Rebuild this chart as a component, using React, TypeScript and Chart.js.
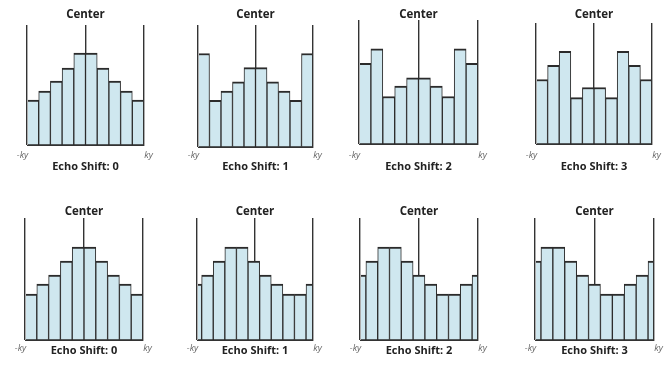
import React, { useEffect, useRef } from "react";
import { Chart, registerables } from "chart.js";

Chart.register(...registerables);

// ---- text ----
const centerLabel = "Center";
const edgeLabels = ["-ky", "", "ky"];
const tickValues = [0, 5, 10];
const shiftLabels = ["Echo Shift: 0", "Echo Shift: 1", "Echo Shift: 2", "Echo Shift: 3"];

// ---- data (bin heights) ----
// top row: each half circularly shifted outward
const topShift0 = [45, 54, 64, 77, 92, 92, 77, 64, 54, 45];
const topShift1 = [92, 46, 55, 64, 78, 78, 64, 55, 46, 92];
const topShift2 = [78, 92, 46, 56, 64, 64, 56, 46, 92, 78];
const topShift3 = [64, 78, 92, 46, 56, 56, 46, 92, 78, 64];
const topStart = [0, 0, 0, 0];

// bottom row: whole profile shifted (wrap-around, partial edge bins)
const bottomShift0 = [46, 56, 65, 79, 93, 93, 79, 65, 56, 46];
const bottomShift1 = [56, 65, 79, 93, 93, 79, 65, 56, 46, 46, 56];
const bottomShift2 = [65, 79, 93, 93, 79, 65, 56, 46, 46, 56, 65];
const bottomShift3 = [79, 93, 93, 79, 65, 56, 46, 46, 56, 65, 79];
const bottomStart = [0, -0.6, -0.5, -0.5];

const topRow = [topShift0, topShift1, topShift2, topShift3];
const bottomRow = [bottomShift0, bottomShift1, bottomShift2, bottomShift3];

// ---- layout (pixels) ----
const topGeo = [
  { L: 27, R: 144, T: 25, B: 145 },
  { L: 198, R: 313, T: 25, B: 147 },
  { L: 359, R: 478, T: 20, B: 144 },
  { L: 536, R: 652, T: 23, B: 144 },
];
const bottomGeo = [
  { L: 25, R: 143, T: 218, B: 340 },
  { L: 197, R: 313, T: 218, B: 340 },
  { L: 360, R: 478, T: 218, B: 340 },
  { L: 535, R: 654, T: 218, B: 340 },
];
const topText = { canvasTop: 0, titleY: 15, tickY: 155, axisY: 167, yMax: 120 };
const bottomText = { canvasTop: 196, titleY: 212, tickY: 348, axisY: 351, yMax: 122 };

const FONT = "'Open Sans', 'Noto Sans', sans-serif";
const TITLE_SIZE = 11.5;
const TICK_SIZE = 9;
const AXIS_SIZE = 11;

type Geo = { L: number; R: number; T: number; B: number };
type Txt = { canvasTop: number; titleY: number; tickY: number; axisY: number; yMax: number };

function Panel({ values, start, label, geo, txt }: { values: number[]; start: number; label: string; geo: Geo; txt: Txt }) {
  const ref = useRef<HTMLCanvasElement>(null);
  const padX = 22;
  const width = geo.R - geo.L + 2 * padX;
  const titleLH = TITLE_SIZE * 1.2;
  const tickLH = TICK_SIZE * 1.2;
  const axisLH = AXIS_SIZE * 1.2;
  const tTop = txt.titleY - txt.canvasTop - titleLH / 2;
  const tBottom = geo.T - txt.canvasTop - tTop - titleLH;
  const tickPad = txt.tickY - geo.B - tickLH / 2;
  const axTop = txt.axisY - (geo.B + tickLH + 2 * tickPad + axisLH / 2);
  const need = geo.B - txt.canvasTop + tickLH + 2 * tickPad + axisLH + axTop;
  const height = Math.ceil(need) + 4;
  const padBottom = height - need;

  useEffect(() => {
    if (!ref.current) return;
    const chart = new Chart(ref.current, {
      type: "bar",
      data: {
        datasets: [
          {
            data: values.map((v, i) => ({ x: start + i + 0.5, y: v })),
            backgroundColor: "#cfe7ef",
            borderColor: "#2b2b2b",
            borderWidth: { top: 2, left: 1, right: 1, bottom: 1 },
            borderSkipped: false,
            barPercentage: 1,
            categoryPercentage: 1,
            clip: { left: -1, right: -1, top: 0, bottom: 0 },
          } as any,
        ],
      },
      options: {
        responsive: false,
        animation: false,
        devicePixelRatio: 1,
        layout: { padding: { left: padX, right: padX, top: 0, bottom: padBottom } },
        plugins: {
          legend: { display: false },
          tooltip: { enabled: false },
          title: {
            display: true,
            text: centerLabel,
            color: "#222",
            font: { family: FONT, size: TITLE_SIZE, weight: "bold" },
            padding: { top: tTop, bottom: tBottom },
          },
        },
        scales: {
          x: {
            type: "linear",
            min: 0,
            max: 10,
            offset: false,
            afterBuildTicks: (scale: any) => {
              scale.ticks = tickValues.map((v) => ({ value: v }));
            },
            ticks: {
              autoSkip: false,
              maxRotation: 0,
              padding: tickPad,
              color: "#666",
              font: { family: FONT, size: TICK_SIZE, style: "italic" },
              callback: (_v: any, index: number) =>
                index === 0 ? edgeLabels[0] + "\u2002\u2002" : index === 2 ? "\u2002\u2002" + edgeLabels[2] : edgeLabels[index],
            },
            grid: { display: true, offset: false, color: "#333", lineWidth: 1.4, drawTicks: false },
            border: { display: true, color: "#333", width: 1 },
            title: {
              display: true,
              text: label,
              color: "#222",
              font: { family: FONT, size: AXIS_SIZE, weight: "bold" },
              padding: { top: axTop, bottom: 0 },
            },
          },
          y: { display: false, min: 0, max: txt.yMax },
        },
      } as any,
    });
    return () => chart.destroy();
  }, []);

  return (
    <canvas
      ref={ref}
      width={width}
      height={height}
      style={{ position: "absolute", left: geo.L - padX, top: txt.canvasTop, width, height }}
    />
  );
}

export default function App() {
  return (
    <div style={{ position: "absolute", left: 0, top: 0, width: 667, height: 370, background: "#fff", overflow: "hidden" }}>
      {topRow.map((vals, i) => (
        <Panel key={"t" + i} values={vals} start={topStart[i]} label={shiftLabels[i]} geo={topGeo[i]} txt={topText} />
      ))}
      {bottomRow.map((vals, i) => (
        <Panel key={"b" + i} values={vals} start={bottomStart[i]} label={shiftLabels[i]} geo={bottomGeo[i]} txt={bottomText} />
      ))}
    </div>
  );
}
